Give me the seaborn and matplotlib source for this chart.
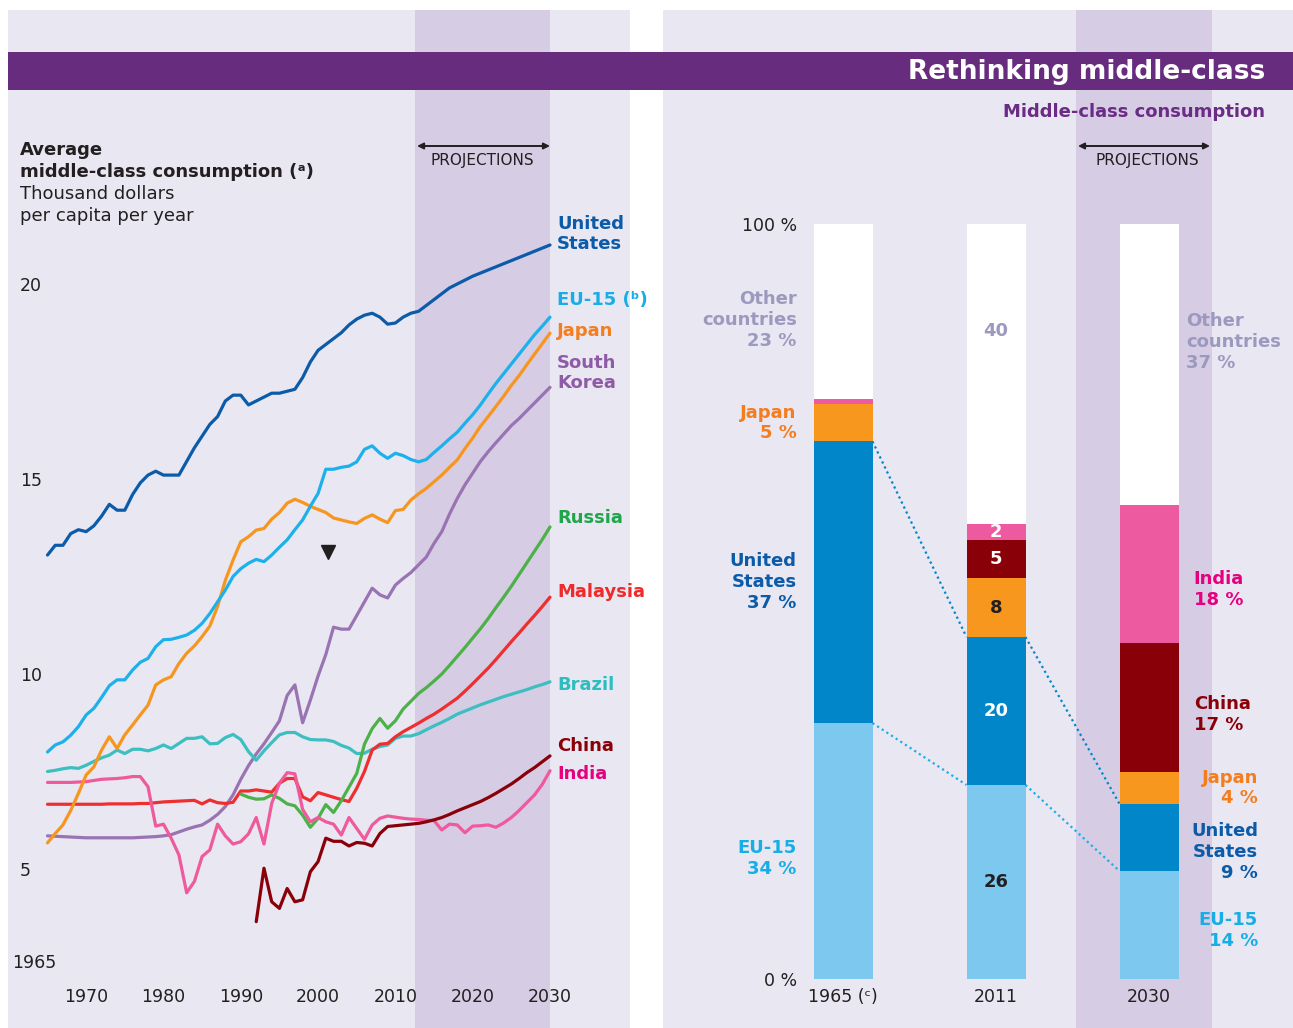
import numpy as np
import pandas as pd
import matplotlib
matplotlib.use('Agg')
import matplotlib.pyplot as plt
from matplotlib.patches import Rectangle
import seaborn as sns

# ---- left panel data: thousand dollars per capita per year ----
years = list(range(1965, 2031))
russia_years = list(range(1990, 2031))
china_years = list(range(1992, 2031))

us = [13.05, 13.3, 13.3, 13.6, 13.7, 13.65, 13.8, 14.05, 14.35, 14.2,
      14.2, 14.6, 14.9, 15.1, 15.2, 15.1, 15.1, 15.1, 15.45, 15.8,
      16.1, 16.4, 16.6, 17.0, 17.15, 17.15, 16.9, 17.0, 17.1, 17.2,
      17.2, 17.25, 17.3, 17.6, 18.0, 18.3, 18.45, 18.6, 18.75, 18.95,
      19.1, 19.2, 19.25, 19.15, 18.97, 19.0, 19.15, 19.25, 19.3, 19.45,
      19.6, 19.75, 19.9, 20.0, 20.1, 20.2, 20.28, 20.36, 20.44, 20.52,
      20.6, 20.68, 20.76, 20.84, 20.92, 21.0]
eu15 = [8.0, 8.18, 8.26, 8.43, 8.65, 8.95, 9.12, 9.4, 9.7, 9.85,
        9.85, 10.1, 10.3, 10.4, 10.7, 10.88, 10.89, 10.94, 11.0, 11.12,
        11.3, 11.55, 11.85, 12.15, 12.5, 12.7, 12.84, 12.94, 12.88, 13.05,
        13.25, 13.44, 13.7, 13.95, 14.3, 14.63, 15.25, 15.25, 15.3, 15.33,
        15.44, 15.76, 15.85, 15.66, 15.53, 15.66, 15.6, 15.5, 15.44, 15.5,
        15.68, 15.85, 16.03, 16.2, 16.43, 16.65, 16.9, 17.18, 17.45, 17.7,
        17.95, 18.2, 18.45, 18.7, 18.92, 19.15]
japan = [5.67, 5.91, 6.13, 6.5, 6.94, 7.41, 7.62, 8.05, 8.39, 8.09,
         8.44, 8.69, 8.95, 9.2, 9.72, 9.85, 9.93, 10.27, 10.53, 10.72,
         10.96, 11.23, 11.73, 12.4, 12.92, 13.39, 13.52, 13.69, 13.73, 13.97,
         14.14, 14.38, 14.48, 14.4, 14.3, 14.22, 14.14, 14.0, 13.95, 13.9,
         13.86, 13.99, 14.08, 13.97, 13.88, 14.19, 14.22, 14.46, 14.62, 14.76,
         14.93, 15.1, 15.3, 15.49, 15.78, 16.05, 16.35, 16.6, 16.86, 17.12,
         17.4, 17.65, 17.93, 18.2, 18.47, 18.74]
korea = [5.85, 5.84, 5.83, 5.82, 5.81, 5.8, 5.8, 5.8, 5.8, 5.8,
         5.8, 5.8, 5.81, 5.82, 5.83, 5.85, 5.88, 5.95, 6.02, 6.08,
         6.13, 6.25, 6.4, 6.6, 6.9, 7.3, 7.65, 7.95, 8.21, 8.5,
         8.8, 9.45, 9.72, 8.75, 9.33, 9.95, 10.5, 11.2, 11.15, 11.15,
         11.5, 11.85, 12.2, 12.03, 11.95, 12.28, 12.45, 12.6, 12.8, 13.0,
         13.35, 13.65, 14.1, 14.5, 14.85, 15.15, 15.45, 15.7, 15.93, 16.15,
         16.37, 16.55, 16.75, 16.95, 17.15, 17.35]
russia = [6.92, 6.84, 6.79, 6.8, 6.9, 6.81, 6.67, 6.62, 6.38, 6.07,
          6.3, 6.65, 6.45, 6.75, 7.1, 7.45, 8.2, 8.6, 8.86, 8.61,
          8.8, 9.1, 9.3, 9.5, 9.65, 9.82, 10.0, 10.22, 10.45, 10.68,
          10.92, 11.16, 11.42, 11.7, 11.97, 12.25, 12.55, 12.85, 13.15, 13.45,
          13.77]
malaysia = [6.66, 6.66, 6.66, 6.66, 6.66, 6.66, 6.66, 6.66, 6.67, 6.67,
            6.67, 6.67, 6.68, 6.68, 6.7, 6.72, 6.73, 6.74, 6.75, 6.76,
            6.67, 6.77, 6.7, 6.68, 6.71, 7.0, 7.0, 7.03, 7.0, 6.97,
            7.2, 7.32, 7.32, 6.85, 6.75, 6.96, 6.9, 6.84, 6.78, 6.73,
            7.07, 7.5, 8.05, 8.2, 8.22, 8.39, 8.52, 8.63, 8.74, 8.86,
            8.97, 9.1, 9.24, 9.38, 9.56, 9.75, 9.95, 10.15, 10.37, 10.6,
            10.83, 11.05, 11.28, 11.5, 11.73, 11.97]
brazil = [7.5, 7.53, 7.57, 7.6, 7.58, 7.66, 7.76, 7.85, 7.92, 8.05,
          7.96, 8.07, 8.07, 8.03, 8.09, 8.18, 8.09, 8.22, 8.35, 8.35,
          8.39, 8.21, 8.22, 8.37, 8.45, 8.32, 8.01, 7.79, 8.03, 8.24,
          8.44, 8.5, 8.5, 8.39, 8.32, 8.31, 8.31, 8.27, 8.17, 8.1,
          7.96, 7.97, 8.07, 8.14, 8.18, 8.35, 8.41, 8.41, 8.47, 8.57,
          8.67, 8.76, 8.86, 8.97, 9.05, 9.13, 9.21, 9.28, 9.35, 9.42,
          9.48, 9.54, 9.6, 9.67, 9.73, 9.8]
china = [3.65, 5.02, 4.16, 3.99, 4.5, 4.16, 4.21, 4.93, 5.19, 5.79,
         5.71, 5.71, 5.59, 5.68, 5.66, 5.59, 5.91, 6.09, 6.11, 6.13,
         6.15, 6.17, 6.21, 6.26, 6.32, 6.4, 6.49, 6.57, 6.65, 6.73,
         6.83, 6.94, 7.06, 7.18, 7.32, 7.47, 7.6, 7.75, 7.9]
india = [7.22, 7.22, 7.22, 7.22, 7.23, 7.24, 7.27, 7.3, 7.31, 7.32,
         7.34, 7.37, 7.37, 7.11, 6.1, 6.15, 5.79, 5.36, 4.39, 4.68,
         5.32, 5.49, 6.15, 5.85, 5.64, 5.7, 5.9, 6.32, 5.64, 6.68,
         7.2, 7.47, 7.44, 6.53, 6.21, 6.32, 6.21, 6.15, 5.87, 6.32,
         6.04, 5.76, 6.13, 6.3, 6.36, 6.33, 6.3, 6.28, 6.27, 6.25,
         6.24, 6.0, 6.15, 6.13, 5.93, 6.1, 6.11, 6.13, 6.07, 6.18,
         6.32, 6.5, 6.7, 6.9, 7.17, 7.52]

marker_year = 2001.3
marker_value = 13.13
projection_start = 2012.5

# ---- right panel data: share of middle-class consumption, % ----
periods = ['1965 (ᶜ)', '2011', '2030']
share_eu = [33.9, 25.7, 14.3]
share_us = [37.3, 19.6, 8.9]
share_japan = [4.9, 7.8, 4.2]
share_china = [0.0, 5.0, 17.1]
share_india = [0.7, 2.1, 18.3]
share_other = [23.2, 39.8, 37.2]

DARK = '#231F20'
BG = '#E9E7F2'
BAND = '#D6CCE4'
PURPLE = '#682C7F'

line_colors = {'United States': '#0B5BA9', 'EU-15': '#1DB1EB', 'Japan': '#F7961E',
               'South Korea': '#9A73B2', 'Russia': '#4CB147', 'Malaysia': '#EE2E2F',
               'Brazil': '#3CBFC0', 'China': '#8A0009', 'India': '#EE5A9C'}
text_colors = {'United States': '#0B5BA9', 'EU-15': '#17AEE8', 'Japan': '#F47D20',
               'South Korea': '#8E5CA6', 'Russia': '#1FA64A', 'Malaysia': '#EE2A2A',
               'Brazil': '#2DBDC1', 'China': '#8A0009', 'India': '#E5007D',
               'Other': '#9C99BF'}

sns.set_theme(style='white')
plt.rcParams['font.family'] = ['DejaVu Sans']

W, H = 1293, 1028
fig = plt.figure(figsize=(W / 100, H / 100), dpi=100)
fig.patch.set_facecolor('white')

def fx(px):
    return px / W

def fy(py):
    return 1 - py / H

# ================= left panel =================
ax = fig.add_axes([fx(8), 0, fx(630) - fx(8), fy(10)])
ax.set_facecolor(BG)

series = [('South Korea', years, korea), ('Brazil', years, brazil),
          ('Malaysia', years, malaysia), ('Russia', russia_years, russia),
          ('India', years, india), ('China', china_years, china),
          ('Japan', years, japan), ('EU-15', years, eu15),
          ('United States', years, us)]
df = pd.concat([pd.DataFrame({'year': yr, 'value': v, 'country': name})
                for name, yr, v in series], ignore_index=True)

ax.axvspan(projection_start, 2030, color=BAND, lw=0, zorder=0)
sns.lineplot(data=df, x='year', y='value', hue='country',
             hue_order=[s[0] for s in series], palette=line_colors,
             estimator=None, legend=False, linewidth=2.3, ax=ax, zorder=3)
ax.plot(marker_year, marker_value, marker='v', color=DARK, markersize=10, zorder=4)

px_per_year = (550 - 47.5) / 65
ax.set_xlim(1965 - (47.5 - 8) / px_per_year, 2030 + (630 - 550) / px_per_year)
ax.set_ylim(20 - (1028 - 284) / 39, 20 + (284 - 10) / 39)
ax.set_xlabel('')
ax.set_ylabel('')
for s in ax.spines.values():
    s.set_visible(False)

ax.set_xticks(range(1970, 2031, 10))
ax.set_yticks([5, 10, 15, 20])
ax.tick_params(axis='x', length=0, pad=-22.3, labelsize=12.5, labelcolor=DARK)
ax.tick_params(axis='y', length=0, pad=-8.6, labelsize=12.5, labelcolor=DARK)
for t in ax.get_xticklabels():
    t.set_va('center')
for t in ax.get_yticklabels():
    t.set_ha('left')
fig.text(fx(12), fy(963), '1965', fontsize=12.5, color=DARK, ha='left', va='center')

# projections arrow (left)
arrow_y = 20 - (146 - 284) / 39
ax.annotate('', xy=(projection_start + 0.3, arrow_y), xytext=(2030, arrow_y),
            arrowprops=dict(arrowstyle='<|-|>', color=DARK, lw=1.4,
                            mutation_scale=9, shrinkA=0, shrinkB=0))
ax.text((projection_start + 2030) / 2, 20 - (161 - 284) / 39, 'PROJECTIONS',
        ha='center', va='center', fontsize=11, color=DARK)

# left titles
fig.text(fx(20), fy(150), 'Average', fontsize=13, fontweight='bold', color=DARK, va='center')
fig.text(fx(20), fy(172), 'middle-class consumption (ᵃ)', fontsize=13,
         fontweight='bold', color=DARK, va='center')
fig.text(fx(20), fy(194), 'Thousand dollars', fontsize=13, color=DARK, va='center')
fig.text(fx(20), fy(216), 'per capita per year', fontsize=13, color=DARK, va='center')

# end labels
end_labels = [('United States', 'United\nStates', 234), ('EU-15', 'EU-15 (ᵇ)', 300),
              ('Japan', 'Japan', 331), ('South Korea', 'South\nKorea', 373),
              ('Russia', 'Russia', 518), ('Malaysia', 'Malaysia', 592),
              ('Brazil', 'Brazil', 685), ('China', 'China', 746), ('India', 'India', 774)]
for key, txt, py in end_labels:
    fig.text(fx(557), fy(py), txt, fontsize=13, fontweight='bold',
             color=text_colors[key], va='center', ha='left', linespacing=1.12)

# ================= right panel =================
ax2 = fig.add_axes([fx(663), 0, 1 - fx(663), fy(10)])
ax2.set_facecolor(BG)
unit = 153.0
x0 = 843.0
ax2.set_xlim((663 - x0) / unit, (1293 - x0) / unit)
ax2.set_ylim(-(1028 - 979) / 7.55, 100 + (224 - 10) / 7.55)
ax2.axvspan((1076 - x0) / unit, (1212 - x0) / unit, color=BAND, lw=0, zorder=0)

bw = 59 / unit
xpos = np.arange(len(periods))
layers = [('EU-15', share_eu, '#7CC8EF'), ('United States', share_us, '#0086C9'),
          ('Japan', share_japan, '#F7971D'), ('China', share_china, '#8A0009'),
          ('India', share_india, '#EE5AA0'), ('Other', share_other, '#FFFFFF')]
inner_text = {'EU-15': DARK, 'United States': 'white', 'Japan': DARK,
              'China': 'white', 'India': 'white', 'Other': text_colors['Other']}
inner_shift = {'Other': 5.7}
names_1965 = {'EU-15': ('EU-15', -1.0), 'United States': ('United\nStates', 0.0),
              'Japan': ('Japan', 0.0), 'Other': ('Other\ncountries', -1.1)}
names_2030 = {'EU-15': ('EU-15', 'right', -0.7), 'United States': ('United\nStates', 'right', -1.9),
              'Japan': ('Japan', 'right', 0.0), 'China': ('China', 'left', -0.9),
              'India': ('India', 'left', -2.1), 'Other': ('Other\ncountries', 'left', 3.0)}

bottom = np.zeros(len(periods))
tops = {}
for name, vals, col in layers:
    vals = np.array(vals)
    ax2.bar(xpos, vals, bottom=bottom, width=bw, color=col, lw=0, zorder=2)
    mids = bottom + vals / 2
    # 2011 values inside bar
    ax2.text(1, mids[1] + inner_shift.get(name, 0), f'{round(vals[1])}', ha='center',
             va='center', fontsize=13, fontweight='bold', color=inner_text[name], zorder=5)
    if name in names_1965:
        lab, dy = names_1965[name]
        ax2.text(-bw / 2 - 0.11, mids[0] + dy, f'{lab}\n{round(vals[0])} %',
                 ha='right', va='center', fontsize=13, fontweight='bold',
                 color=text_colors[name], linespacing=1.2, zorder=5)
    lab, ha, dy = names_2030[name]
    lx = 2 + bw / 2 + 0.1 if ha == 'left' else (1258 - x0) / unit
    if name == 'Other':
        lx = 2 + bw / 2 + 0.05
    ax2.text(lx, mids[2] + dy, f'{lab}\n{round(vals[2])} %', ha=ha, va='center',
             fontsize=13, fontweight='bold', color=text_colors[name],
             linespacing=1.2, zorder=5)
    bottom = bottom + vals
    tops[name] = bottom.copy()

# dotted connectors between bars
for key, col in [('EU-15', '#1BAEE8'), ('United States', '#0086C9')]:
    for i in range(len(periods) - 1):
        ax2.plot([i + bw / 2, i + 1 - bw / 2], [tops[key][i], tops[key][i + 1]],
                 ls=(0, (1, 1.5)), lw=1.6, color=col, zorder=3)

ax2.set_xticks(xpos)
ax2.set_xticklabels(periods)
ax2.set_yticks([0, 100])
ax2.set_yticklabels(['0 %', '100 %'])
ax2.tick_params(axis='x', length=0, pad=-22.3, labelsize=12.5, labelcolor=DARK)
ax2.tick_params(axis='y', length=0, pad=-96.5, labelsize=12.5, labelcolor=DARK)
for t in ax2.get_xticklabels():
    t.set_va('center')
for s in ax2.spines.values():
    s.set_visible(False)

# projections arrow (right)
ya = (979 - 146) / 7.55
ax2.annotate('', xy=((1078 - x0) / unit, ya), xytext=((1210 - x0) / unit, ya),
             arrowprops=dict(arrowstyle='<|-|>', color=DARK, lw=1.4,
                             mutation_scale=9, shrinkA=0, shrinkB=0))
ax2.text((1147 - x0) / unit, (979 - 161) / 7.55, 'PROJECTIONS', ha='center',
         va='center', fontsize=11, color=DARK)

# ================= banner =================
fig.add_artist(Rectangle((fx(8), fy(90)), 1 - fx(8), fy(52) - fy(90),
                         transform=fig.transFigure, color=PURPLE, lw=0, zorder=10))
fig.text(fx(1265), fy(72), 'Rethinking middle-class', ha='right', va='center',
         fontsize=19, fontweight='bold', color='white', zorder=11)
fig.text(fx(1265), fy(112), 'Middle-class consumption', ha='right', va='center',
         fontsize=13, fontweight='bold', color='#6A2C84', zorder=11)

fig.savefig('out.png', dpi=100, facecolor='white')
